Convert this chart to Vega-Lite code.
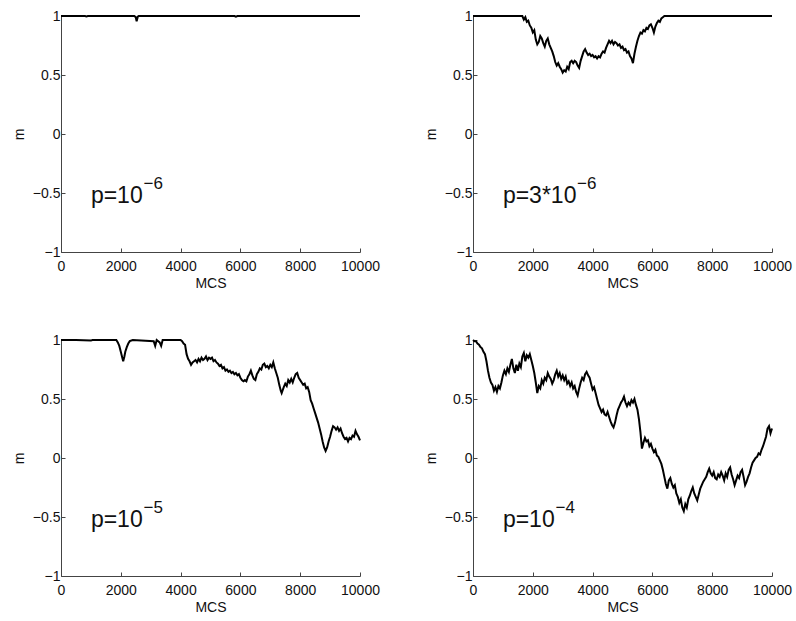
{
  "$schema": "https://vega.github.io/schema/vega-lite/v6.json",
  "padding": {"left": 12, "top": 9, "right": 5, "bottom": 5},
  "background": "white",
  "spacing": 43,
  "config": {
    "font": "Liberation Sans",
    "view": {"stroke": null},
    "concat": {"spacing": 44},
    "axis": {
      "grid": false,
      "domainColor": "#444",
      "tickColor": "#444",
      "labelColor": "#111",
      "titleColor": "#111",
      "labelFontSize": 14,
      "titleFontSize": 14,
      "titleFontWeight": "normal",
      "tickSize": -4,
      "labelFlush": false
    },
    "axisX": {"labelPadding": 11, "titlePadding": 3},
    "axisY": {"labelPadding": 5, "titlePadding": 6}
  },
  "datasets": {
    "p1": [
      {"t": 0, "m": 1}, {"t": 800, "m": 1}, {"t": 850, "m": 0.997}, {"t": 900, "m": 1},
      {"t": 2450, "m": 1}, {"t": 2500, "m": 0.99}, {"t": 2530, "m": 0.955}, {"t": 2570, "m": 0.995},
      {"t": 2600, "m": 1}, {"t": 5800, "m": 1}, {"t": 5850, "m": 0.995}, {"t": 5900, "m": 1}, {"t": 10000, "m": 1}
    ],
    "p2": [
      {"t": 0, "m": 1}, {"t": 1650, "m": 1}, {"t": 1700, "m": 0.97}, {"t": 1750, "m": 0.99}, {"t": 1800, "m": 0.95},
      {"t": 1850, "m": 0.96}, {"t": 1900, "m": 0.92}, {"t": 1950, "m": 0.90}, {"t": 2000, "m": 0.86}, {"t": 2050, "m": 0.88},
      {"t": 2100, "m": 0.80}, {"t": 2150, "m": 0.76}, {"t": 2200, "m": 0.78}, {"t": 2250, "m": 0.83}, {"t": 2300, "m": 0.81},
      {"t": 2350, "m": 0.77}, {"t": 2400, "m": 0.74}, {"t": 2450, "m": 0.79}, {"t": 2500, "m": 0.81}, {"t": 2550, "m": 0.76},
      {"t": 2600, "m": 0.73}, {"t": 2650, "m": 0.70}, {"t": 2700, "m": 0.66}, {"t": 2750, "m": 0.61}, {"t": 2800, "m": 0.58},
      {"t": 2850, "m": 0.60}, {"t": 2900, "m": 0.57}, {"t": 2950, "m": 0.55}, {"t": 3000, "m": 0.52}, {"t": 3050, "m": 0.54},
      {"t": 3100, "m": 0.53}, {"t": 3150, "m": 0.57}, {"t": 3200, "m": 0.55}, {"t": 3250, "m": 0.61}, {"t": 3300, "m": 0.62},
      {"t": 3350, "m": 0.60}, {"t": 3400, "m": 0.62}, {"t": 3450, "m": 0.61}, {"t": 3500, "m": 0.58}, {"t": 3550, "m": 0.56},
      {"t": 3600, "m": 0.62}, {"t": 3650, "m": 0.66}, {"t": 3700, "m": 0.70}, {"t": 3750, "m": 0.72}, {"t": 3800, "m": 0.69},
      {"t": 3850, "m": 0.67}, {"t": 3900, "m": 0.68}, {"t": 3950, "m": 0.66}, {"t": 4000, "m": 0.67}, {"t": 4050, "m": 0.65},
      {"t": 4100, "m": 0.66}, {"t": 4150, "m": 0.64}, {"t": 4200, "m": 0.66}, {"t": 4250, "m": 0.65}, {"t": 4300, "m": 0.68},
      {"t": 4350, "m": 0.70}, {"t": 4400, "m": 0.69}, {"t": 4450, "m": 0.73}, {"t": 4500, "m": 0.76}, {"t": 4550, "m": 0.79},
      {"t": 4600, "m": 0.77}, {"t": 4650, "m": 0.79}, {"t": 4700, "m": 0.76}, {"t": 4750, "m": 0.78}, {"t": 4800, "m": 0.77},
      {"t": 4850, "m": 0.75}, {"t": 4900, "m": 0.76}, {"t": 4950, "m": 0.73}, {"t": 5000, "m": 0.74}, {"t": 5050, "m": 0.71},
      {"t": 5100, "m": 0.72}, {"t": 5150, "m": 0.69}, {"t": 5200, "m": 0.70}, {"t": 5250, "m": 0.66}, {"t": 5300, "m": 0.64},
      {"t": 5350, "m": 0.60}, {"t": 5400, "m": 0.68}, {"t": 5450, "m": 0.74}, {"t": 5500, "m": 0.79}, {"t": 5550, "m": 0.83},
      {"t": 5600, "m": 0.86}, {"t": 5650, "m": 0.85}, {"t": 5700, "m": 0.88}, {"t": 5750, "m": 0.87}, {"t": 5800, "m": 0.90},
      {"t": 5850, "m": 0.89}, {"t": 5900, "m": 0.92}, {"t": 5950, "m": 0.93}, {"t": 6000, "m": 0.90}, {"t": 6050, "m": 0.86},
      {"t": 6100, "m": 0.91}, {"t": 6150, "m": 0.94}, {"t": 6200, "m": 0.96}, {"t": 6250, "m": 0.95}, {"t": 6300, "m": 0.98},
      {"t": 6350, "m": 0.99}, {"t": 6400, "m": 1}, {"t": 10000, "m": 1}
    ],
    "p3": [
      {"t": 0, "m": 1}, {"t": 500, "m": 1}, {"t": 1000, "m": 0.995}, {"t": 1050, "m": 1}, {"t": 1850, "m": 1},
      {"t": 1900, "m": 0.98}, {"t": 1950, "m": 0.95}, {"t": 2000, "m": 0.90}, {"t": 2050, "m": 0.85}, {"t": 2080, "m": 0.82},
      {"t": 2120, "m": 0.86}, {"t": 2150, "m": 0.90}, {"t": 2200, "m": 0.94}, {"t": 2250, "m": 0.97}, {"t": 2300, "m": 0.99},
      {"t": 2400, "m": 1}, {"t": 3100, "m": 0.99}, {"t": 3150, "m": 0.95}, {"t": 3200, "m": 1}, {"t": 3300, "m": 0.98},
      {"t": 3350, "m": 0.95}, {"t": 3400, "m": 1}, {"t": 4000, "m": 1}, {"t": 4050, "m": 0.99}, {"t": 4100, "m": 0.97},
      {"t": 4150, "m": 0.96}, {"t": 4200, "m": 0.88}, {"t": 4250, "m": 0.84}, {"t": 4300, "m": 0.82}, {"t": 4350, "m": 0.79},
      {"t": 4400, "m": 0.81}, {"t": 4450, "m": 0.82}, {"t": 4500, "m": 0.83}, {"t": 4550, "m": 0.81}, {"t": 4600, "m": 0.84},
      {"t": 4650, "m": 0.82}, {"t": 4700, "m": 0.85}, {"t": 4750, "m": 0.83}, {"t": 4800, "m": 0.84}, {"t": 4850, "m": 0.86},
      {"t": 4900, "m": 0.83}, {"t": 4950, "m": 0.85}, {"t": 5000, "m": 0.84}, {"t": 5050, "m": 0.85}, {"t": 5100, "m": 0.82},
      {"t": 5150, "m": 0.83}, {"t": 5200, "m": 0.81}, {"t": 5250, "m": 0.80}, {"t": 5300, "m": 0.78}, {"t": 5350, "m": 0.79},
      {"t": 5400, "m": 0.76}, {"t": 5450, "m": 0.77}, {"t": 5500, "m": 0.74}, {"t": 5550, "m": 0.75}, {"t": 5600, "m": 0.73},
      {"t": 5650, "m": 0.74}, {"t": 5700, "m": 0.72}, {"t": 5750, "m": 0.73}, {"t": 5800, "m": 0.71}, {"t": 5850, "m": 0.72},
      {"t": 5900, "m": 0.70}, {"t": 5950, "m": 0.71}, {"t": 6000, "m": 0.68}, {"t": 6050, "m": 0.66}, {"t": 6100, "m": 0.65},
      {"t": 6150, "m": 0.66}, {"t": 6200, "m": 0.65}, {"t": 6250, "m": 0.69}, {"t": 6300, "m": 0.71}, {"t": 6350, "m": 0.74},
      {"t": 6400, "m": 0.70}, {"t": 6450, "m": 0.67}, {"t": 6500, "m": 0.66}, {"t": 6550, "m": 0.71}, {"t": 6600, "m": 0.73},
      {"t": 6650, "m": 0.76}, {"t": 6700, "m": 0.75}, {"t": 6750, "m": 0.79}, {"t": 6800, "m": 0.80}, {"t": 6850, "m": 0.77},
      {"t": 6900, "m": 0.78}, {"t": 6950, "m": 0.76}, {"t": 7000, "m": 0.79}, {"t": 7050, "m": 0.77}, {"t": 7100, "m": 0.81},
      {"t": 7150, "m": 0.76}, {"t": 7200, "m": 0.72}, {"t": 7250, "m": 0.68}, {"t": 7300, "m": 0.62}, {"t": 7350, "m": 0.57},
      {"t": 7380, "m": 0.55}, {"t": 7450, "m": 0.60}, {"t": 7500, "m": 0.63}, {"t": 7550, "m": 0.61}, {"t": 7600, "m": 0.66},
      {"t": 7650, "m": 0.64}, {"t": 7700, "m": 0.67}, {"t": 7750, "m": 0.64}, {"t": 7800, "m": 0.68}, {"t": 7850, "m": 0.71},
      {"t": 7900, "m": 0.72}, {"t": 7950, "m": 0.68}, {"t": 8000, "m": 0.66}, {"t": 8050, "m": 0.64}, {"t": 8100, "m": 0.62},
      {"t": 8150, "m": 0.63}, {"t": 8200, "m": 0.59}, {"t": 8250, "m": 0.60}, {"t": 8300, "m": 0.56}, {"t": 8350, "m": 0.49},
      {"t": 8400, "m": 0.46}, {"t": 8450, "m": 0.42}, {"t": 8500, "m": 0.38}, {"t": 8550, "m": 0.34}, {"t": 8600, "m": 0.30},
      {"t": 8650, "m": 0.25}, {"t": 8700, "m": 0.20}, {"t": 8750, "m": 0.14}, {"t": 8800, "m": 0.09}, {"t": 8850, "m": 0.06},
      {"t": 8900, "m": 0.09}, {"t": 8950, "m": 0.14}, {"t": 9000, "m": 0.18}, {"t": 9050, "m": 0.23}, {"t": 9100, "m": 0.27},
      {"t": 9150, "m": 0.26}, {"t": 9200, "m": 0.24}, {"t": 9250, "m": 0.26}, {"t": 9300, "m": 0.23}, {"t": 9350, "m": 0.25},
      {"t": 9400, "m": 0.21}, {"t": 9450, "m": 0.18}, {"t": 9500, "m": 0.16}, {"t": 9550, "m": 0.17}, {"t": 9600, "m": 0.14},
      {"t": 9650, "m": 0.17}, {"t": 9700, "m": 0.16}, {"t": 9750, "m": 0.19}, {"t": 9800, "m": 0.18}, {"t": 9850, "m": 0.23},
      {"t": 9900, "m": 0.20}, {"t": 9950, "m": 0.18}, {"t": 10000, "m": 0.15}
    ],
    "p4": [
      {"t": 0, "m": 1.00}, {"t": 50, "m": 0.99}, {"t": 100, "m": 0.99}, {"t": 150, "m": 0.97}, {"t": 200, "m": 0.96},
      {"t": 250, "m": 0.94}, {"t": 300, "m": 0.93}, {"t": 350, "m": 0.90}, {"t": 400, "m": 0.88}, {"t": 450, "m": 0.82},
      {"t": 500, "m": 0.74}, {"t": 550, "m": 0.68}, {"t": 600, "m": 0.64}, {"t": 650, "m": 0.62}, {"t": 700, "m": 0.57},
      {"t": 750, "m": 0.60}, {"t": 800, "m": 0.56}, {"t": 850, "m": 0.61}, {"t": 900, "m": 0.59}, {"t": 950, "m": 0.64},
      {"t": 1000, "m": 0.70}, {"t": 1050, "m": 0.74}, {"t": 1100, "m": 0.71}, {"t": 1150, "m": 0.76}, {"t": 1200, "m": 0.73},
      {"t": 1250, "m": 0.79}, {"t": 1300, "m": 0.84}, {"t": 1350, "m": 0.76}, {"t": 1400, "m": 0.72}, {"t": 1450, "m": 0.79},
      {"t": 1500, "m": 0.74}, {"t": 1550, "m": 0.80}, {"t": 1600, "m": 0.77}, {"t": 1650, "m": 0.86}, {"t": 1700, "m": 0.89},
      {"t": 1750, "m": 0.82}, {"t": 1800, "m": 0.87}, {"t": 1850, "m": 0.85}, {"t": 1900, "m": 0.88}, {"t": 1950, "m": 0.83},
      {"t": 2000, "m": 0.78}, {"t": 2050, "m": 0.72}, {"t": 2100, "m": 0.64}, {"t": 2150, "m": 0.55}, {"t": 2200, "m": 0.61},
      {"t": 2250, "m": 0.59}, {"t": 2300, "m": 0.66}, {"t": 2350, "m": 0.63}, {"t": 2400, "m": 0.68}, {"t": 2450, "m": 0.66},
      {"t": 2500, "m": 0.72}, {"t": 2550, "m": 0.69}, {"t": 2600, "m": 0.67}, {"t": 2650, "m": 0.63}, {"t": 2700, "m": 0.66},
      {"t": 2750, "m": 0.71}, {"t": 2800, "m": 0.74}, {"t": 2850, "m": 0.69}, {"t": 2900, "m": 0.72}, {"t": 2950, "m": 0.67},
      {"t": 3000, "m": 0.70}, {"t": 3050, "m": 0.66}, {"t": 3100, "m": 0.69}, {"t": 3150, "m": 0.63}, {"t": 3200, "m": 0.65},
      {"t": 3250, "m": 0.61}, {"t": 3300, "m": 0.64}, {"t": 3350, "m": 0.59}, {"t": 3400, "m": 0.61}, {"t": 3450, "m": 0.56},
      {"t": 3500, "m": 0.53}, {"t": 3550, "m": 0.59}, {"t": 3600, "m": 0.64}, {"t": 3650, "m": 0.68}, {"t": 3700, "m": 0.66},
      {"t": 3750, "m": 0.71}, {"t": 3800, "m": 0.73}, {"t": 3850, "m": 0.70}, {"t": 3900, "m": 0.68}, {"t": 3950, "m": 0.63},
      {"t": 4000, "m": 0.58}, {"t": 4050, "m": 0.60}, {"t": 4100, "m": 0.55}, {"t": 4150, "m": 0.50}, {"t": 4200, "m": 0.45},
      {"t": 4250, "m": 0.42}, {"t": 4300, "m": 0.39}, {"t": 4350, "m": 0.41}, {"t": 4400, "m": 0.37}, {"t": 4450, "m": 0.36},
      {"t": 4500, "m": 0.39}, {"t": 4550, "m": 0.35}, {"t": 4600, "m": 0.31}, {"t": 4650, "m": 0.28}, {"t": 4700, "m": 0.26},
      {"t": 4750, "m": 0.30}, {"t": 4800, "m": 0.36}, {"t": 4850, "m": 0.41}, {"t": 4900, "m": 0.44}, {"t": 4950, "m": 0.47},
      {"t": 5000, "m": 0.49}, {"t": 5050, "m": 0.52}, {"t": 5100, "m": 0.47}, {"t": 5150, "m": 0.44}, {"t": 5200, "m": 0.47},
      {"t": 5250, "m": 0.45}, {"t": 5300, "m": 0.49}, {"t": 5350, "m": 0.47}, {"t": 5400, "m": 0.50}, {"t": 5450, "m": 0.45},
      {"t": 5500, "m": 0.41}, {"t": 5550, "m": 0.33}, {"t": 5600, "m": 0.22}, {"t": 5650, "m": 0.08}, {"t": 5700, "m": 0.13},
      {"t": 5750, "m": 0.17}, {"t": 5800, "m": 0.14}, {"t": 5850, "m": 0.15}, {"t": 5900, "m": 0.10}, {"t": 5950, "m": 0.12},
      {"t": 6000, "m": 0.08}, {"t": 6050, "m": 0.05}, {"t": 6100, "m": 0.07}, {"t": 6150, "m": 0.02}, {"t": 6200, "m": 0.01},
      {"t": 6250, "m": -0.02}, {"t": 6300, "m": -0.05}, {"t": 6350, "m": -0.10}, {"t": 6400, "m": -0.16}, {"t": 6450, "m": -0.22},
      {"t": 6500, "m": -0.26}, {"t": 6550, "m": -0.19}, {"t": 6600, "m": -0.17}, {"t": 6650, "m": -0.22}, {"t": 6700, "m": -0.25},
      {"t": 6750, "m": -0.23}, {"t": 6800, "m": -0.30}, {"t": 6850, "m": -0.33}, {"t": 6900, "m": -0.38}, {"t": 6950, "m": -0.35},
      {"t": 7000, "m": -0.42}, {"t": 7050, "m": -0.45}, {"t": 7100, "m": -0.39}, {"t": 7150, "m": -0.42}, {"t": 7200, "m": -0.35},
      {"t": 7250, "m": -0.32}, {"t": 7300, "m": -0.28}, {"t": 7350, "m": -0.25}, {"t": 7400, "m": -0.30}, {"t": 7450, "m": -0.33},
      {"t": 7500, "m": -0.36}, {"t": 7550, "m": -0.31}, {"t": 7600, "m": -0.26}, {"t": 7650, "m": -0.23}, {"t": 7700, "m": -0.20},
      {"t": 7750, "m": -0.18}, {"t": 7800, "m": -0.16}, {"t": 7850, "m": -0.12}, {"t": 7900, "m": -0.09}, {"t": 7950, "m": -0.13},
      {"t": 8000, "m": -0.15}, {"t": 8050, "m": -0.12}, {"t": 8100, "m": -0.17}, {"t": 8150, "m": -0.18}, {"t": 8200, "m": -0.14},
      {"t": 8250, "m": -0.16}, {"t": 8300, "m": -0.12}, {"t": 8350, "m": -0.15}, {"t": 8400, "m": -0.19}, {"t": 8450, "m": -0.13},
      {"t": 8500, "m": -0.16}, {"t": 8550, "m": -0.10}, {"t": 8600, "m": -0.08}, {"t": 8650, "m": -0.14}, {"t": 8700, "m": -0.18},
      {"t": 8750, "m": -0.23}, {"t": 8800, "m": -0.19}, {"t": 8850, "m": -0.15}, {"t": 8900, "m": -0.17}, {"t": 8950, "m": -0.12},
      {"t": 9000, "m": -0.10}, {"t": 9050, "m": -0.16}, {"t": 9100, "m": -0.23}, {"t": 9150, "m": -0.20}, {"t": 9200, "m": -0.16},
      {"t": 9250, "m": -0.13}, {"t": 9300, "m": -0.08}, {"t": 9350, "m": -0.04}, {"t": 9400, "m": -0.02}, {"t": 9450, "m": 0.00},
      {"t": 9500, "m": 0.01}, {"t": 9550, "m": 0.04}, {"t": 9600, "m": 0.03}, {"t": 9650, "m": 0.07}, {"t": 9700, "m": 0.10},
      {"t": 9750, "m": 0.14}, {"t": 9800, "m": 0.18}, {"t": 9850, "m": 0.25}, {"t": 9900, "m": 0.27}, {"t": 9950, "m": 0.21},
      {"t": 10000, "m": 0.25}
    ]
  },
  "vconcat": [
    {
      "hconcat": [
        {
          "width": 299, "height": 236,
          "layer": [
            {"data": {"name": "p1"}, "mark": {"type": "line", "color": "black", "strokeWidth": 2},
             "encoding": {
               "x": {"field": "t", "type": "quantitative", "scale": {"domain": [0, 10000], "nice": false}, "axis": {"values": [0, 2000, 4000, 6000, 8000, 10000], "format": "d", "title": "MCS"}},
               "y": {"field": "m", "type": "quantitative", "scale": {"domain": [-1, 1], "nice": false}, "axis": {"values": [-1, -0.5, 0, 0.5, 1], "format": "~g", "title": "m"}}}},
            {"data": {"values": [{"t": 1000, "m": -0.585, "label": "p=10"}]}, "mark": {"type": "text", "align": "left", "baseline": "alphabetic", "fontSize": 23, "color": "#111"},
             "encoding": {"x": {"field": "t", "type": "quantitative"}, "y": {"field": "m", "type": "quantitative"}, "text": {"field": "label"}}},
            {"data": {"values": [{"t": 2760, "m": -0.466, "label": "−6"}]}, "mark": {"type": "text", "align": "left", "baseline": "alphabetic", "fontSize": 17, "color": "#111"},
             "encoding": {"x": {"field": "t", "type": "quantitative"}, "y": {"field": "m", "type": "quantitative"}, "text": {"field": "label"}}}
          ]
        },
        {
          "width": 299, "height": 236,
          "layer": [
            {"data": {"name": "p2"}, "mark": {"type": "line", "color": "black", "strokeWidth": 2},
             "encoding": {
               "x": {"field": "t", "type": "quantitative", "scale": {"domain": [0, 10000], "nice": false}, "axis": {"values": [0, 2000, 4000, 6000, 8000, 10000], "format": "d", "title": "MCS"}},
               "y": {"field": "m", "type": "quantitative", "scale": {"domain": [-1, 1], "nice": false}, "axis": {"values": [-1, -0.5, 0, 0.5, 1], "format": "~g", "title": "m"}}}},
            {"data": {"values": [{"t": 1000, "m": -0.585, "label": "p=3*10"}]}, "mark": {"type": "text", "align": "left", "baseline": "alphabetic", "fontSize": 23, "color": "#111"},
             "encoding": {"x": {"field": "t", "type": "quantitative"}, "y": {"field": "m", "type": "quantitative"}, "text": {"field": "label"}}},
            {"data": {"values": [{"t": 3480, "m": -0.466, "label": "−6"}]}, "mark": {"type": "text", "align": "left", "baseline": "alphabetic", "fontSize": 17, "color": "#111"},
             "encoding": {"x": {"field": "t", "type": "quantitative"}, "y": {"field": "m", "type": "quantitative"}, "text": {"field": "label"}}}
          ]
        }
      ]
    },
    {
      "hconcat": [
        {
          "width": 299, "height": 236,
          "layer": [
            {"data": {"name": "p3"}, "mark": {"type": "line", "color": "black", "strokeWidth": 2},
             "encoding": {
               "x": {"field": "t", "type": "quantitative", "scale": {"domain": [0, 10000], "nice": false}, "axis": {"values": [0, 2000, 4000, 6000, 8000, 10000], "format": "d", "title": "MCS"}},
               "y": {"field": "m", "type": "quantitative", "scale": {"domain": [-1, 1], "nice": false}, "axis": {"values": [-1, -0.5, 0, 0.5, 1], "format": "~g", "title": "m"}}}},
            {"data": {"values": [{"t": 1000, "m": -0.585, "label": "p=10"}]}, "mark": {"type": "text", "align": "left", "baseline": "alphabetic", "fontSize": 23, "color": "#111"},
             "encoding": {"x": {"field": "t", "type": "quantitative"}, "y": {"field": "m", "type": "quantitative"}, "text": {"field": "label"}}},
            {"data": {"values": [{"t": 2760, "m": -0.466, "label": "−5"}]}, "mark": {"type": "text", "align": "left", "baseline": "alphabetic", "fontSize": 17, "color": "#111"},
             "encoding": {"x": {"field": "t", "type": "quantitative"}, "y": {"field": "m", "type": "quantitative"}, "text": {"field": "label"}}}
          ]
        },
        {
          "width": 299, "height": 236,
          "layer": [
            {"data": {"name": "p4"}, "mark": {"type": "line", "color": "black", "strokeWidth": 2},
             "encoding": {
               "x": {"field": "t", "type": "quantitative", "scale": {"domain": [0, 10000], "nice": false}, "axis": {"values": [0, 2000, 4000, 6000, 8000, 10000], "format": "d", "title": "MCS"}},
               "y": {"field": "m", "type": "quantitative", "scale": {"domain": [-1, 1], "nice": false}, "axis": {"values": [-1, -0.5, 0, 0.5, 1], "format": "~g", "title": "m"}}}},
            {"data": {"values": [{"t": 1000, "m": -0.585, "label": "p=10"}]}, "mark": {"type": "text", "align": "left", "baseline": "alphabetic", "fontSize": 23, "color": "#111"},
             "encoding": {"x": {"field": "t", "type": "quantitative"}, "y": {"field": "m", "type": "quantitative"}, "text": {"field": "label"}}},
            {"data": {"values": [{"t": 2760, "m": -0.466, "label": "−4"}]}, "mark": {"type": "text", "align": "left", "baseline": "alphabetic", "fontSize": 17, "color": "#111"},
             "encoding": {"x": {"field": "t", "type": "quantitative"}, "y": {"field": "m", "type": "quantitative"}, "text": {"field": "label"}}}
          ]
        }
      ]
    }
  ]
}
